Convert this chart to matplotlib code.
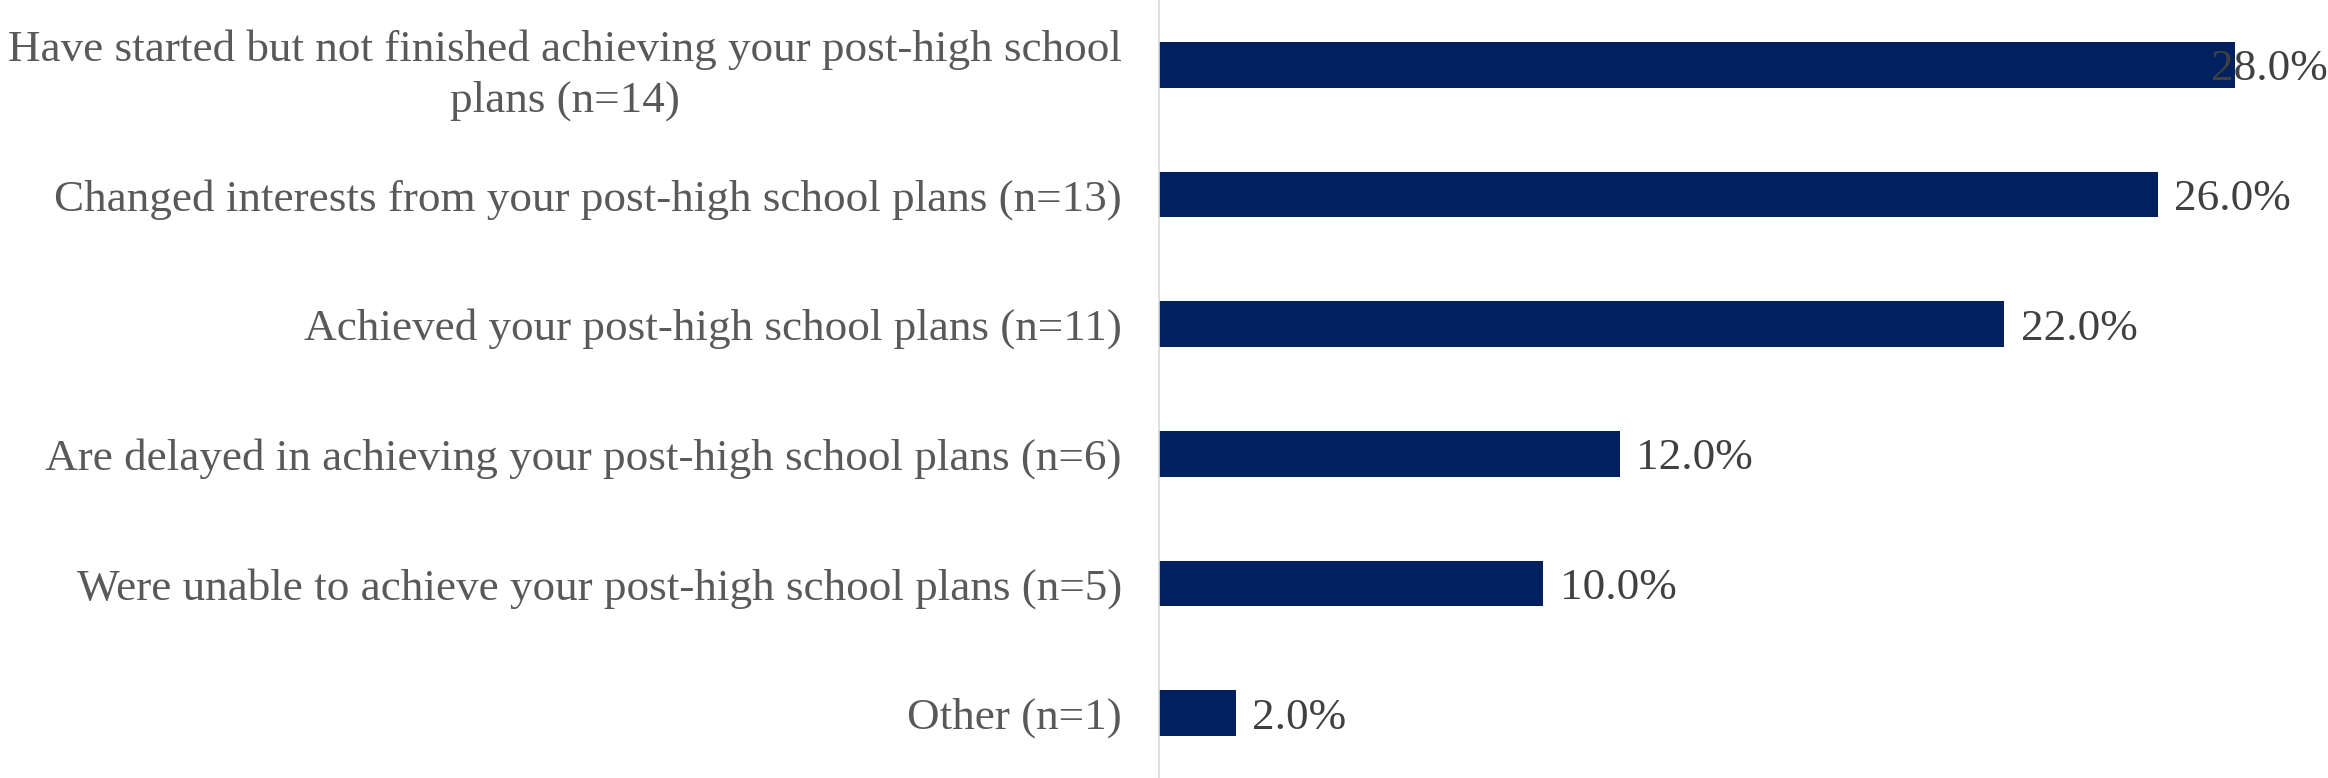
import matplotlib
matplotlib.use("Agg")
import matplotlib.pyplot as plt
from matplotlib.transforms import blended_transform_factory

categories = [
    "Have started but not finished achieving your post-high school\nplans (n=14)",
    "Changed interests from your post-high school plans (n=13)",
    "Achieved your post-high school plans (n=11)",
    "Are delayed in achieving your post-high school plans (n=6)",
    "Were unable to achieve your post-high school plans (n=5)",
    "Other (n=1)",
]
values = [28.0, 26.0, 22.0, 12.0, 10.0, 2.0]
value_labels = ["28.0%", "26.0%", "22.0%", "12.0%", "10.0%", "2.0%"]

plt.rcParams['font.family'] = ['Liberation Serif', 'DejaVu Serif']

fig = plt.figure(figsize=(23.28, 7.78), dpi=100)
ax = fig.add_axes([0.498, 0.0, 0.495, 1.0])

ypos = list(range(len(categories)))
ax.barh(ypos, values, height=0.35, color='#002060', zorder=2)
ax.set_xlim(0, 30)
ax.set_ylim(len(categories) - 0.5, -0.5)

ax.set_yticks(ypos)
ax.set_yticklabels(categories, fontsize=32.5, color='#595959', ha='right',
                   multialignment='center', linespacing=1.35)
ax.tick_params(axis='y', length=0, pad=27)
ax.set_xticks([])
for s in ['top', 'right', 'bottom']:
    ax.spines[s].set_visible(False)
ax.spines['left'].set_color('#d9d9d9')
ax.spines['left'].set_linewidth(1.2)

edge_tr = blended_transform_factory(fig.transFigure, ax.transData)
for y, v, lab in zip(ypos, values, value_labels):
    if v + 0.42 > 27.5:
        ax.text(1.0, y, lab, transform=edge_tr, ha='right',
                va='center_baseline', fontsize=32.5, color='#404040', zorder=3)
    else:
        ax.text(v + 0.42, y, lab, ha='left', va='center_baseline', fontsize=32.5,
                color='#404040')

fig.savefig('out.png', dpi=100)
